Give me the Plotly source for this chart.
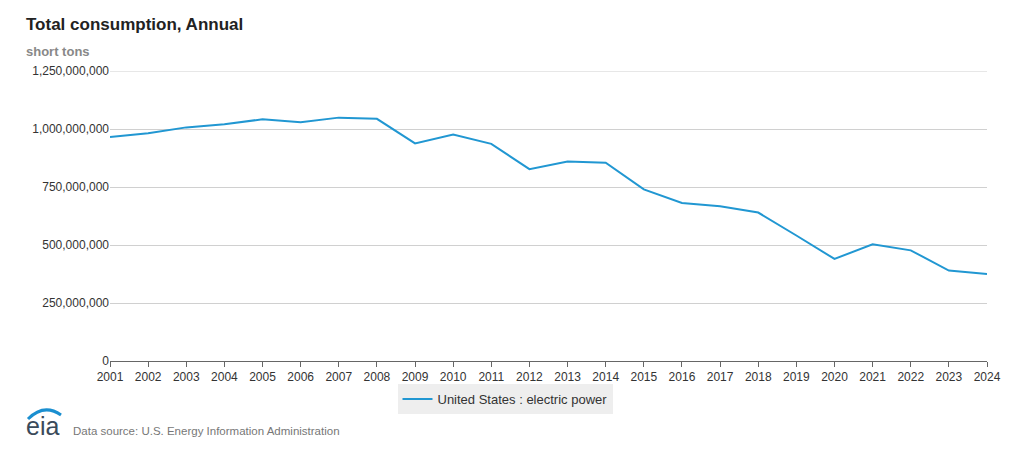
import plotly.graph_objects as go

# EIA: coal consumption by the electric power sector
years = list(range(2001, 2025))
consumption = [
    965e6, 982e6, 1007e6, 1020e6, 1042e6, 1029e6, 1049e6, 1044e6,
    938e6, 976e6, 936e6, 827e6, 860e6, 855e6, 740e6, 681e6,
    667e6, 640e6, 541e6, 440e6, 503e6, 477e6, 390e6, 375e6,
]
y_ticks = [0, 250e6, 500e6, 750e6, 1000e6, 1250e6]
series_name = "United States : electric power"

# the page puts the plot 8px in from the window edge, so work in window pixels
OFF = 8
W, H = 1024 - OFF, 451 - OFF
L, R, T, B = 110, 987, 71, 361
LINE = "#2197d2"
GRID = "#d0d0d0"
FONT = "Liberation Sans, Arial, sans-serif"


# window pixel -> paper coords, so decorations can be placed from the picture
def px(x):
    return (x - L) / (R - L)


def py(y):
    return (B - y) / (B - T)


fig = go.Figure()
fig.add_trace(go.Scatter(x=years, y=consumption, mode="lines", name=series_name,
                         line=dict(color=LINE, width=2), showlegend=True))

fig.update_layout(
    width=W, height=H,
    margin=dict(l=L - OFF, r=W + OFF - R, t=T - OFF, b=H + OFF - B),
    plot_bgcolor="white", paper_bgcolor="white",
    font=dict(family=FONT, size=12, color="#333333"),
    showlegend=True,
    legend=dict(orientation="h", x=px(505), xanchor="center", y=py(384), yanchor="top",
                bgcolor="#eeeeee", font=dict(size=13, color="#333333")),
)

fig.update_xaxes(range=[2001, 2024], tickvals=years, ticks="outside", ticklen=5,
                 tickcolor="#666666", showline=True, linecolor="#666666", linewidth=1,
                 showgrid=False, zeroline=False, tickfont=dict(size=12, color="#333333"))
fig.update_yaxes(range=[0, 1250e6], tickvals=y_ticks, tickformat=",d",
                 showgrid=True, gridcolor=GRID, gridwidth=1, zeroline=False,
                 showline=False, tickfont=dict(size=12, color="#333333"))

# top gridline sits on the edge of the range, draw it explicitly
fig.add_shape(type="line", xref="paper", yref="y", x0=0, x1=1,
              y0=y_ticks[-1], y1=y_ticks[-1], line=dict(color=GRID, width=1))

fig.add_annotation(text="<b>Total consumption, Annual</b>", xref="paper", yref="paper",
                   x=px(24), y=py(24), xanchor="left", yanchor="middle", showarrow=False,
                   font=dict(size=17, color="#222222"))
fig.add_annotation(text="<b>short tons</b>", xref="paper", yref="paper",
                   x=px(24), y=py(51), xanchor="left", yanchor="middle", showarrow=False,
                   font=dict(size=13, color="#888888"))
fig.add_annotation(text="Data source: U.S. Energy Information Administration",
                   xref="paper", yref="paper", x=px(71), y=py(431), xanchor="left",
                   yanchor="middle", showarrow=False, font=dict(size=11.5, color="#777777"))

# eia logo: wordmark plus blue swoosh
fig.add_annotation(text="eia", xref="paper", yref="paper", x=px(24), y=py(426),
                   xanchor="left", yanchor="middle", showarrow=False,
                   font=dict(size=25, color="#3a4a5a"))
fig.add_shape(type="path", xref="paper", yref="paper",
              path=f"M {px(28)},{py(419)} Q {px(44)},{py(403)} {px(61)},{py(415)}",
              line=dict(color="#1b8fd0", width=3))

fig.write_html("out.html")
